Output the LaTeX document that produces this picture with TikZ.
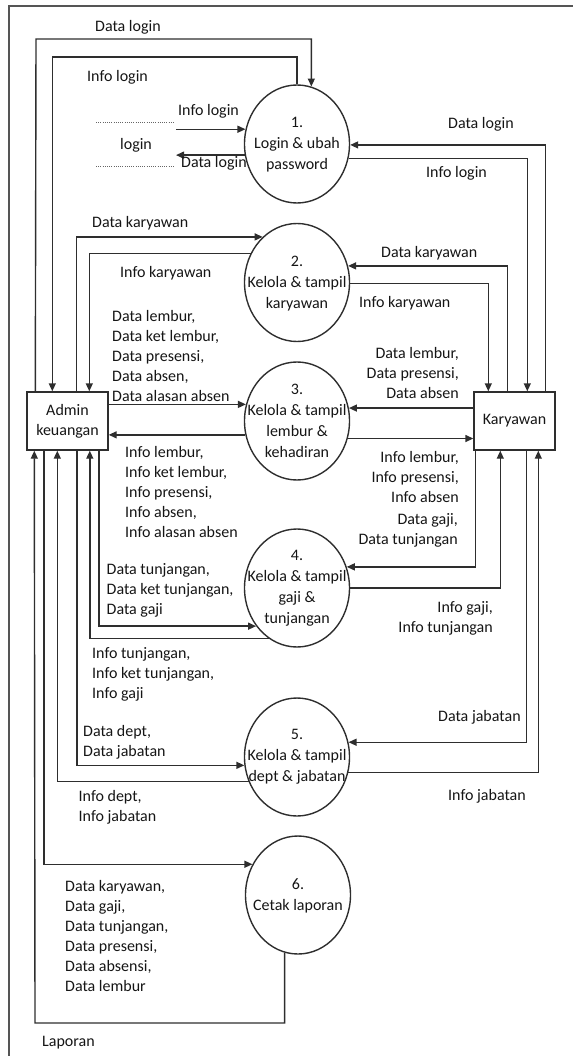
\documentclass[tikz,border=0pt]{standalone}
\usepackage{fontspec}
\setmainfont{Carlito}
\usetikzlibrary{shapes.geometric,arrows.meta}
\definecolor{linec}{HTML}{2E2E2E}
\definecolor{framec}{HTML}{555555}
\definecolor{txtc}{HTML}{151515}
\begin{document}
\begin{tikzpicture}[x=1pt,y=-1pt,
  font=\fontsize{16}{20}\selectfont, text=txtc,
  proc/.style={ellipse,draw=linec,line width=1.4pt,minimum width=105pt,minimum height=118pt,inner sep=0pt},
  ent/.style={rectangle,draw=linec,line width=1.4pt,minimum width=81pt,minimum height=58pt,inner sep=0pt,align=center},
  flow/.style={draw=linec,line width=1.4pt},
  arr/.style={flow,-{Triangle[length=8pt,width=7pt]}},
  lbl/.style={inner sep=0pt,align=left,anchor=west},
  lblr/.style={inner sep=0pt,align=right,anchor=east},
  ptxt/.style={inner sep=0pt,align=center,font=\fontsize{16}{21}\selectfont},
  stub/.style={draw=black!60,line width=0.7pt,dash pattern=on 0.8pt off 1.4pt}
]
\useasboundingbox (0,0) rectangle (573,1056);
% frame
\draw[framec,line width=1.3pt] (9,1056) -- (9,6) -- (573,6);

% processes
\node[proc] (p1) at (297,144) {};
\node[proc] (p2) at (297,282.5) {};
\node[proc] (p3) at (297,421) {};
\node[proc] (p4) at (297,588) {};
\node[proc] (p5) at (297,757) {};
\node[proc] (p6) at (298,895) {};
\node[ptxt] (t1) at (p1) [yshift=-1pt] {1.\\Login \& ubah\\password};
\node[ptxt] (t2) at (p2) [yshift=-1pt] {2.\\Kelola \& tampil\\karyawan};
\node[ptxt] (t3) at (p3) {3.\\Kelola \& tampil\\lembur \&\\kehadiran};
\node[ptxt] (t4) at (p4) {4.\\Kelola \& tampil\\gaji \&\\tunjangan};
\node[ptxt] (t5) at (p5) {5.\\Kelola \& tampil\\dept \& jabatan};
\node[ptxt] (t6) at (p6) [yshift=-1pt] {6.\\Cetak laporan};

% entities
\node[ent] (admin) at (67.5,421) {Admin\\keuangan};
\node[ent] (kary) at (514.5,421) {Karyawan};

% login stub
\coordinate (s1) at (176,0);
\draw[stub] (96,122.7) coordinate (d1) -- (174,122.7) coordinate (d2);
\draw[stub] (96,166.7) coordinate (d3) -- (174,166.7) coordinate (d4);
\draw[arr] (p1.164.6 -| s1) -- (p1.164.6);
\draw[arr] (p1.-168) -- (p1.-168 -| s1);

% admin <-> p1, p2 (top)
\draw[arr] ([xshift=9pt]admin.north west) -- (36,39) -| (p1.76);
\draw[arr] (p1.north) -- (297,57) -| ([xshift=26pt]admin.north west);
\draw[arr] ([xshift=50pt]admin.north west) |- (p2.127.8);
\draw[arr] (p2.148.2) -| ([xshift=63pt]admin.north west);

% karyawan <-> p1, p2 (top)
\draw[arr] ([xshift=72pt]kary.north west) |- (p1.-1);
\draw[arr] (p1.-16.8) -| ([xshift=54pt]kary.north west);
\draw[arr] ([xshift=34pt]kary.north west) |- (p2.18.1);
\draw[arr] (p2.-1.6) -| ([xshift=15pt]kary.north west);

% p3
\draw[arr] (admin.east |- p3.162.4) -- (p3.162.4);
\draw[arr] (p3.-165.8) -- (admin.east |- p3.-165.8);
\draw[arr] (kary.west |- p3.14.2) -- (p3.14.2);
\draw[arr] (p3.-19.8) -- (kary.west |- p3.-19.8);

% admin bottom
\draw[arr] ([xshift=72.5pt]admin.south west) |- (p4.-137.9);
\draw[arr] (p4.-119.2) -| ([xshift=63.5pt]admin.south west);
\draw[arr] ([xshift=50.5pt]admin.south west) |- (p5.-171.3);
\draw[arr] (p5.-153.4) -| ([xshift=31pt]admin.south west);
\draw[arr] ([xshift=17.5pt]admin.south west) |- (p6.146.4);
\draw[arr] (p6.-103.8) |- (35,1023) -- ([xshift=8pt]admin.south west);

% karyawan bottom
\draw[arr] ([xshift=2pt]kary.south west) |- (p4.23.2);
\draw[arr] (p4.east) -| ([xshift=27pt]kary.south west);
\draw[arr] ([xshift=53pt]kary.south west) |- (p5.16.5);
\draw[arr] (p5.-17.6) -| ([xshift=65pt]kary.south west);

% labels
\node[lbl] (l1) at (95,27) {Data login};
\node[lbl] (l2) at (87,77) {Info login};
\node[lbl] (l3) at (178,111) {Info login};
\node[lbl] (l4) at (120,145) {login};
\node[lbl] (l5) at (181,163) {Data login};
\node[lbl] (l6) at (448,124) {Data login};
\node[lbl] (l7) at (426,173) {Info login};
\node[lbl] (l8) at (92,223) {Data karyawan};
\node[lbl] (l9) at (120,273) {Info karyawan};
\node[lbl] (l10) at (381,253) {Data karyawan};
\node[lbl] (l11) at (359,303) {Info karyawan};
\node[lbl] (l12) at (112,356) {Data lembur,\\Data ket lembur,\\Data presensi,\\Data absen,\\Data alasan absen};
\node[lblr] (l13) at (459,373) {Data lembur,\\Data presensi,\\Data absen};
\node[lbl] (l14) at (125,492) {Info lembur,\\Info ket lembur,\\Info presensi,\\Info absen,\\Info alasan absen};
\node[lblr] (l15) at (459,477) {Info lembur,\\Info presensi,\\Info absen};
\node[lblr] (l16) at (458,530) {Data gaji,\\Data tunjangan};
\node[lbl] (l17) at (106.5,590) {Data tunjangan,\\Data ket tunjangan,\\Data gaji};
\node[lblr] (l18) at (493,618) {Info gaji,\\Info tunjangan};
\node[lbl] (l19) at (92,674) {Info tunjangan,\\Info ket tunjangan,\\Info gaji};
\node[lbl] (l20) at (438,717) {Data jabatan};
\node[lbl] (l21) at (83,742) {Data dept,\\Data jabatan};
\node[lbl] (l22) at (448,796) {Info jabatan};
\node[lbl] (l23) at (78.5,807) {Info dept,\\Info jabatan};
\node[lbl] (l24) at (65,935.5) {Data karyawan,\\Data gaji,\\Data tunjangan,\\Data presensi,\\Data absensi,\\Data lembur};
\node[lbl] (l25) at (42,1043) {Laporan};
\end{tikzpicture}
\end{document}
